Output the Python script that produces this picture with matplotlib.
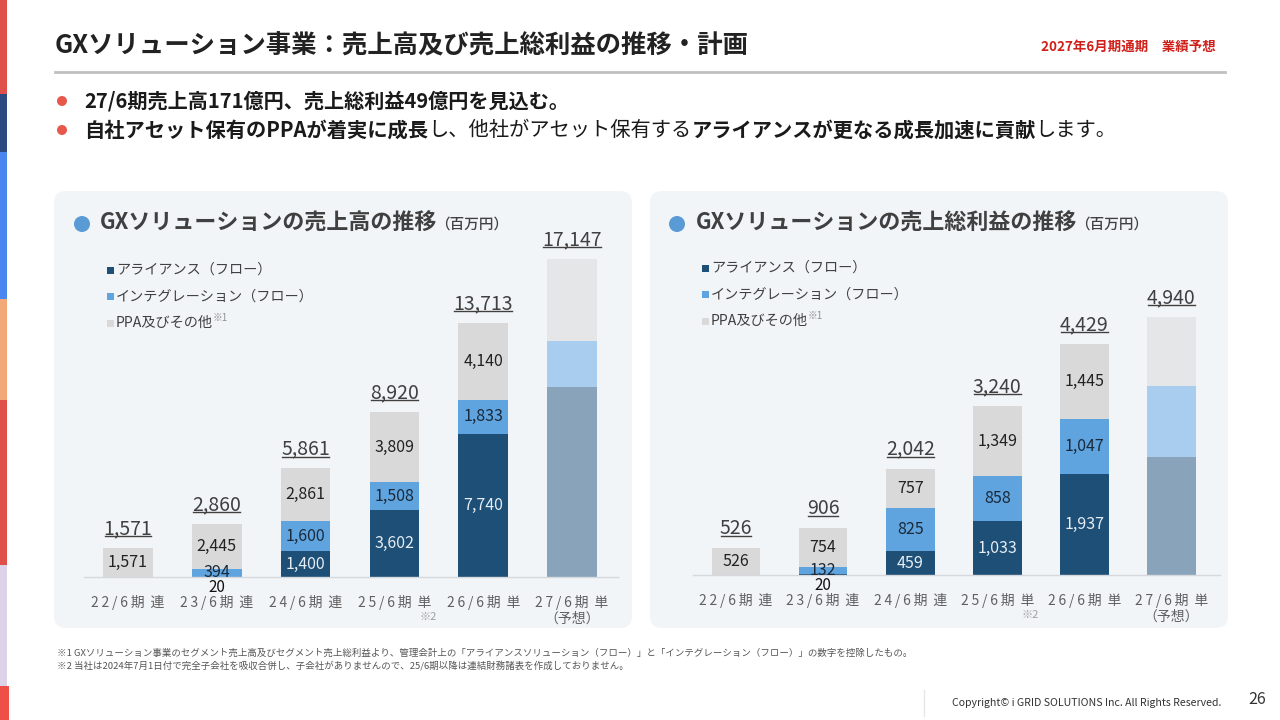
import matplotlib
matplotlib.use('Agg')
import matplotlib.pyplot as plt
from matplotlib.patches import FancyBboxPatch, Rectangle, Circle
from matplotlib.lines import Line2D

plt.rcParams['font.family'] = ['Noto Sans CJK JP', 'DejaVu Sans']

# ---------------- data ----------------
periods = ['22/6期', '23/6期', '24/6期', '25/6期', '26/6期', '27/6期']
period_types = ['連', '連', '連', '単', '単', '単']
period_notes = ['', '', '', '※2', '', '（予想）']
series_names = ['アライアンス（フロー）', 'インテグレーション（フロー）', 'PPA及びその他']

sales_alliance = [0, 20, 1400, 3602, 7740, 10260]
sales_integration = [0, 394, 1600, 1508, 1833, 2480]
sales_ppa = [1571, 2445, 2861, 3809, 4140, 4407]
sales_total = [1571, 2860, 5861, 8920, 13713, 17147]

gp_alliance = [0, 20, 459, 1033, 1937, 2262]
gp_integration = [0, 132, 825, 858, 1047, 1360]
gp_ppa = [526, 754, 757, 1349, 1445, 1318]
gp_total = [526, 906, 2042, 3240, 4429, 4940]

forecast_index = 5

# ---------------- style ----------------
C_ALL = '#1D4F77'
C_INT = '#5FA3DF'
C_PPA = '#D9D9D9'
F_ALL = '#88A3BA'
F_INT = '#A9CDEE'
F_PPA = '#E5E6E8'
PANEL = '#F2F5F8'

W, H = 1280, 720
fig = plt.figure(figsize=(12.8, 7.2), dpi=100)
fig.patch.set_facecolor('white')
bg = fig.add_axes([0, 0, 1, 1], zorder=0)
bg.set_xlim(0, W)
bg.set_ylim(H, 0)
bg.axis('off')
R = fig.canvas.get_renderer()

# left colour strip
strip = [(0, 94, '#E0504A'), (94, 152, '#2A4A80'), (152, 299, '#4A86F0'),
         (299, 400, '#F2A878'), (400, 565, '#E0504A'), (565, 686, '#DDD3E8'),
         (686, 720, '#EE5048')]
for y0, y1, c in strip:
    bg.add_patch(Rectangle((0, y0), 7 if y0 < 686 else 9, y1 - y0, color=c, lw=0))

# header
bg.text(55, 46, 'GXソリューション事業：売上高及び売上総利益の推移・計画', fontsize=18.3,
        fontweight='bold', color='#222222', va='center', ha='left')
bg.text(1216, 47, '2027年6月期通期　業績予想', fontsize=9.7, fontweight='bold',
        color='#D0201A', va='center', ha='right')
bg.add_line(Line2D([55, 1225], [72, 72], color='#C0C0C0', lw=2))

# bullets
for yb in (101, 130):
    bg.add_patch(Circle((62, yb), 5, color='#E8574B', lw=0))
bg.text(84, 101, '27/6期売上高171億円、売上総利益49億円を見込む。', fontsize=14.5,
        fontweight='bold', color='#1A1A1A', va='center', ha='left')
parts = [('自社アセット保有のPPAが着実に成長', True), ('し、他社がアセット保有する', False),
         ('アライアンスが更なる成長加速に貢献', True), ('します。', False)]
x = 84
for s, b in parts:
    t = bg.text(x, 130, s, fontsize=14.6, fontweight='bold' if b else 'normal',
                color='#1A1A1A', va='center', ha='left')
    x += t.get_window_extent(renderer=R).width

# panels
for px0 in (54, 650):
    bg.add_patch(FancyBboxPatch((px0, 191), 578, 437,
                                boxstyle='round,pad=0,rounding_size=12',
                                fc=PANEL, ec='none'))

# footnotes
bg.text(57, 653, '※1 GXソリューション事業のセグメント売上高及びセグメント売上総利益より、管理会計上の「アライアンスソリューション（フロー）」と「インテグレーション（フロー）」の数字を控除したもの。',
        fontsize=6.8, color='#555555', va='center', ha='left')
bg.text(57, 666, '※2 当社は2024年7月1日付で完全子会社を吸収合併し、子会社がありませんので、25/6期以降は連結財務諸表を作成しておりません。',
        fontsize=6.8, color='#555555', va='center', ha='left')
bg.add_line(Line2D([924, 924], [690, 716], color='#E6E6E6', lw=1))
bg.text(1221, 703, 'Copyright© i GRID SOLUTIONS Inc. All Rights Reserved.', fontsize=7.6,
        color='#333333', va='center', ha='right')
bg.text(1266, 700, '26', fontsize=11.5, color='#333333', va='center', ha='right')


def px_axes(left, top, right, bottom):
    return fig.add_axes([left / W, 1 - bottom / H, (right - left) / W, (bottom - top) / H], zorder=2)


def spaced(s):
    return '\u2009'.join(list(s))


underlines = []


def draw_panel(ax, alliance, integ, ppa, total, ymax, xmax, title, title_x, dot_x, leg_x, leg_y):
    ax.set_xlim(-0.495, xmax)
    ax.set_ylim(0, ymax)
    ax.patch.set_alpha(0)
    for sp in ('top', 'right', 'left'):
        ax.spines[sp].set_visible(False)
    ax.spines['bottom'].set_color('#D5D8DC')
    ax.spines['bottom'].set_linewidth(1)
    ax.set_yticks([])
    ax.set_xticks([])
    xs = list(range(len(periods)))
    cols_all = [F_ALL if i == forecast_index else C_ALL for i in xs]
    cols_int = [F_INT if i == forecast_index else C_INT for i in xs]
    cols_ppa = [F_PPA if i == forecast_index else C_PPA for i in xs]
    bw = 0.56
    b1 = [a for a in alliance]
    b2 = [a + b for a, b in zip(alliance, integ)]
    ax.bar(xs, alliance, bw, color=cols_all, lw=0, zorder=2)
    ax.bar(xs, integ, bw, bottom=b1, color=cols_int, lw=0, zorder=2)
    ax.bar(xs, ppa, bw, bottom=b2, color=cols_ppa, lw=0, zorder=2)
    for i in xs:
        if i != forecast_index:
            segs = [(alliance[i], 0, '#E6EDF4'), (integ[i], b1[i], '#1A2A3A'), (ppa[i], b2[i], '#222222')]
            for k, (v, bot, col) in enumerate(segs):
                if v <= 0:
                    continue
                if k == 0 and v < ymax * 0.01:
                    ax.annotate(f'{v:,}', xy=(i, 0), xytext=(0, -7.5), textcoords='offset points',
                                ha='center', va='center', fontsize=11, color='#111111',
                                annotation_clip=False, zorder=5)
                else:
                    ax.text(i, bot + v / 2, f'{v:,}', ha='center', va='center', fontsize=11.5,
                            color=col, zorder=5)
        t = ax.annotate(f'{total[i]:,}', xy=(i, total[i]), xytext=(0, 14), textcoords='offset points',
                        ha='center', va='center', fontsize=14, color='#404040',
                        annotation_clip=False, zorder=5)
        underlines.append(t)
        ax.annotate(spaced(periods[i]) + '\u2009 ' + period_types[i], xy=(i, 0), xytext=(0, -18.5),
                    textcoords='offset points', ha='center', va='center', fontsize=10,
                    color='#606060', annotation_clip=False)
        if period_notes[i] == '※2':
            ax.annotate('※2', xy=(i, 0), xytext=(24, -28.5), textcoords='offset points',
                        ha='center', va='center', fontsize=8, color='#A0A0A0', annotation_clip=False)
        elif period_notes[i]:
            ax.annotate(period_notes[i], xy=(i, 0), xytext=(0, -30), textcoords='offset points',
                        ha='center', va='center', fontsize=10, color='#606060', annotation_clip=False)

    # panel title
    bg.add_patch(Circle((dot_x, 224), 8, color='#5B9BD5', lw=0))
    tt = bg.text(title_x, 223, title, fontsize=15.8, fontweight='bold', color='#404040',
                 va='center', ha='left')
    ext = tt.get_window_extent(renderer=R)
    bg.text(title_x + ext.width - 2, 225, '（百万円）', fontsize=10.5, fontweight='medium',
            color='#404040', va='center', ha='left')
    # legend
    lc = [C_ALL, C_INT, C_PPA]
    for j, name in enumerate(series_names):
        yy = leg_y + j * 26.5
        bg.add_patch(Rectangle((leg_x - 9, yy - 3.5), 7, 7, color=lc[j], lw=0))
        lt = bg.text(leg_x, yy, name, fontsize=10.2, color='#404040', va='center', ha='left')
        if j == 2:
            e = lt.get_window_extent(renderer=R)
            bg.text(leg_x + e.width, yy - 5, '※1', fontsize=7, color='#909090',
                    va='center', ha='left')


axL = px_axes(84, 240, 618, 577)
draw_panel(axL, sales_alliance, sales_integration, sales_ppa, sales_total,
           (577 - 240) / 0.01852, 5.518, 'GXソリューションの売上高の推移', 100, 82, 116, 270)

axR = px_axes(693, 240, 1220, 575)
draw_panel(axR, gp_alliance, gp_integration, gp_ppa, gp_total,
           (575 - 240) / 0.05216, 5.56, 'GXソリューションの売上総利益の推移', 696, 677, 711, 268)

fig.canvas.draw()
for t in underlines:
    e = t.get_window_extent(renderer=R)
    yline = H - e.y0 - 3
    bg.add_line(Line2D([e.x0 + 1, e.x1 - 1], [yline, yline], color='#404040', lw=1))

fig.savefig('out.png', dpi=100, facecolor='white')
